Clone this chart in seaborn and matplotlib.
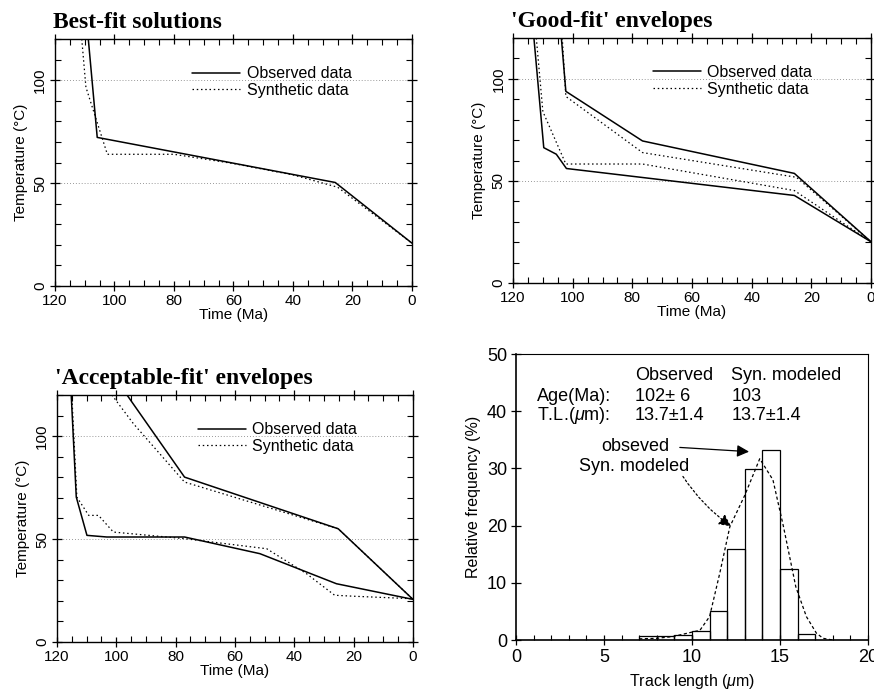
import numpy as np
import pandas as pd
import matplotlib
matplotlib.use('Agg')
import matplotlib.pyplot as plt
import seaborn as sns
from matplotlib.lines import Line2D
from matplotlib.ticker import MultipleLocator

# ---- data ----
# best-fit panel
best_obs_t = [108.8, 105.8, 25.8, 0]
best_obs_T = [120, 72.2, 50.3, 20.8]
best_syn_t = [111, 109.6, 102.4, 80, 60, 40, 25, 0]
best_syn_T = [120, 96.6, 64, 64, 59.5, 54, 48, 20.8]

# good-fit envelopes
good_obs_up_t = [103.8, 102.3, 76.6, 25.7, 0]
good_obs_up_T = [120, 93.9, 69.6, 53.7, 20.2]
good_obs_lo_t = [113, 109.7, 105.5, 102.1, 25.7, 0]
good_obs_lo_T = [120, 66.3, 63.1, 56.1, 42.9, 20.2]
good_syn_up_t = [103.5, 102.3, 76.6, 25, 0]
good_syn_up_T = [120, 91.4, 63.9, 51.8, 20.2]
good_syn_lo_t = [112.2, 110, 102.3, 76.6, 25.7, 0]
good_syn_lo_T = [120, 84, 58.3, 58.3, 45.3, 20.2]

# acceptable-fit envelopes
acc_obs_up_t = [96.4, 77, 25.2, 0]
acc_obs_up_T = [120, 80.1, 55, 20.7]
acc_obs_lo_t = [115.2, 113.5, 109.9, 103.2, 77, 51.6, 25.8, 0]
acc_obs_lo_T = [120, 70.4, 51.8, 51, 51, 42.9, 28.3, 20.7]
acc_syn_up_t = [101.5, 94.2, 77, 25.2, 0]
acc_syn_up_T = [120, 106, 77.7, 55, 20.7]
acc_syn_lo_t = [115, 113.3, 109.3, 106, 101, 77, 49.3, 35.9, 26.4, 19.6, 0]
acc_syn_lo_T = [120, 70.4, 61.5, 61.5, 53.4, 50.2, 45.3, 33.2, 22.7, 22.2, 21]

# track length histogram
bin_left = [7, 8, 9, 10, 11, 12, 13, 14, 15, 16]
rel_freq = [0.7, 0.7, 0.8, 1.5, 5.0, 16.0, 29.9, 33.3, 12.5, 1.0]
syn_len = [7.0, 8.0, 8.9, 10.45, 11.0, 11.58, 12.15, 13.0, 13.85, 14.6, 15.2, 15.9, 16.5, 17.07, 17.45, 18]
syn_freq = [0.2, 0.3, 0.6, 1.7, 4.1, 11.7, 19.8, 25.3, 31.7, 28.0, 19.8, 9.3, 4.1, 1.2, 0.3, 0.0]

sns.set_theme(style='ticks')
plt.rcParams['font.family'] = ['Liberation Sans', 'DejaVu Sans']
plt.rcParams['mathtext.fontset'] = 'custom'
plt.rcParams['mathtext.rm'] = 'Liberation Sans'
plt.rcParams['mathtext.it'] = 'Liberation Sans:italic'
for key in ('text.color', 'axes.labelcolor', 'xtick.color', 'ytick.color', 'axes.edgecolor'):
    plt.rcParams[key] = 'black'

fig = plt.figure(figsize=(8.74, 6.92), dpi=100)
ax1 = fig.add_axes([0.0629, 0.5867, 0.4085, 0.3569])
ax2 = fig.add_axes([0.587, 0.591, 0.4096, 0.354])
ax3 = fig.add_axes([0.0652, 0.0723, 0.4073, 0.3569])
ax4 = fig.add_axes([0.5904, 0.0751, 0.4027, 0.4133])

solid = dict(color='black', lw=1.1, sort=False, estimator=None)
dotted = dict(color='black', lw=0.9, sort=False, estimator=None, linestyle=(0, (1.2, 2.2)))


def temp_axes(ax, title, leg_x, leg_y):
    ax.set_xlim(120, 0)
    ax.set_ylim(0, 120)
    ax.xaxis.set_major_locator(MultipleLocator(20))
    ax.xaxis.set_minor_locator(MultipleLocator(5))
    ax.yaxis.set_major_locator(MultipleLocator(50))
    ax.yaxis.set_minor_locator(MultipleLocator(10))
    ax.tick_params(which='both', top=True, right=True, color='black')
    ax.tick_params(which='major', direction='inout', length=7, width=0.9, labelsize=11, pad=2)
    ax.tick_params(which='minor', direction='in', length=4, width=0.8)
    for lab in ax.get_yticklabels():
        lab.set_rotation(90)
        lab.set_va('center')
    for s in ax.spines.values():
        s.set_linewidth(1.0)
    for yy in (50, 100):
        ax.axhline(yy, color='#777777', lw=0.6, linestyle=(0, (1, 2.5)), zorder=0)
    ax.set_xlabel('Time (Ma)', fontsize=11, labelpad=0)
    ax.set_ylabel('Temperature (°C)', fontsize=11, labelpad=4)
    ax.text(-0.005, 1.025, title, transform=ax.transAxes, ha='left', va='bottom',
            fontsize=17, fontweight='bold', family='Liberation Serif')
    handles = [Line2D([], [], color='black', lw=1.1),
               Line2D([], [], color='black', lw=0.9, linestyle=(0, (1.2, 2.2)))]
    ax.legend(handles, ['Observed data', 'Synthetic data'], loc='upper left',
              bbox_to_anchor=(leg_x, leg_y), frameon=False, fontsize=11.5,
              handlelength=3.0, handletextpad=0.4, labelspacing=0.1, borderpad=0,
              borderaxespad=0)


sns.lineplot(x=best_obs_t, y=best_obs_T, ax=ax1, **solid)
sns.lineplot(x=best_syn_t, y=best_syn_T, ax=ax1, **dotted)
temp_axes(ax1, 'Best-fit solutions', 0.385, 0.89)

for t, T in [(good_obs_up_t, good_obs_up_T), (good_obs_lo_t, good_obs_lo_T)]:
    sns.lineplot(x=t, y=T, ax=ax2, **solid)
for t, T in [(good_syn_up_t, good_syn_up_T), (good_syn_lo_t, good_syn_lo_T)]:
    sns.lineplot(x=t, y=T, ax=ax2, **dotted)
temp_axes(ax2, "'Good-fit' envelopes", 0.39, 0.89)

for t, T in [(acc_obs_up_t, acc_obs_up_T), (acc_obs_lo_t, acc_obs_lo_T)]:
    sns.lineplot(x=t, y=T, ax=ax3, **solid)
for t, T in [(acc_syn_up_t, acc_syn_up_T), (acc_syn_lo_t, acc_syn_lo_T)]:
    sns.lineplot(x=t, y=T, ax=ax3, **dotted)
temp_axes(ax3, "'Acceptable-fit' envelopes", 0.395, 0.89)

# histogram panel
hist_df = pd.DataFrame({'length': [b + 0.5 for b in bin_left], 'freq': rel_freq})
sns.histplot(data=hist_df, x='length', weights='freq', binwidth=1, binrange=(7, 17),
             fill=False, color='black', linewidth=0.9, element='bars', ax=ax4)
sns.lineplot(x=syn_len, y=syn_freq, ax=ax4, color='black', lw=0.9,
             linestyle=(0, (2.5, 2)), sort=False, estimator=None)
ax4.set_xlim(0, 20)
ax4.set_ylim(0, 50)
ax4.xaxis.set_major_locator(MultipleLocator(5))
ax4.xaxis.set_minor_locator(MultipleLocator(1))
ax4.yaxis.set_major_locator(MultipleLocator(10))
ax4.tick_params(which='major', direction='inout', length=7, width=0.9, labelsize=13, pad=3)
ax4.tick_params(which='minor', direction='in', length=3.5, width=0.8)
for s in ax4.spines.values():
    s.set_linewidth(0.8)
ax4.spines['left'].set_linewidth(1.2)
ax4.spines['bottom'].set_linewidth(1.2)
ax4.set_xlabel('Track length ($\\mu$m)', fontsize=11.5, labelpad=4)
ax4.set_ylabel('Relative frequency (%)', fontsize=11.5, labelpad=4)

fs = 13
ax4.text(6.75, 46.3, 'Observed', fontsize=fs, va='center')
ax4.text(12.24, 46.3, 'Syn. modeled', fontsize=fs, va='center')
ax4.text(1.2, 42.6, 'Age(Ma):', fontsize=fs, va='center')
ax4.text(6.75, 42.6, '102± 6', fontsize=fs, va='center')
ax4.text(12.24, 42.6, '103', fontsize=fs, va='center')
ax4.text(1.2, 39.2, 'T.L.($\\mu$m):', fontsize=fs, va='center')
ax4.text(6.75, 39.2, '13.7±1.4', fontsize=fs, va='center')
ax4.text(12.24, 39.2, '13.7±1.4', fontsize=fs, va='center')
ax4.text(4.85, 33.8, 'obseved', fontsize=fs, va='center')
ax4.text(3.6, 30.4, 'Syn. modeled', fontsize=fs, va='center')
ax4.annotate('', xy=(13.4, 32.9), xytext=(9.15, 33.7),
             arrowprops=dict(arrowstyle='-|>', color='black', lw=0.9,
                             mutation_scale=18))
ax4.annotate('', xy=(12.35, 19.6), xytext=(9.4, 29.0),
             arrowprops=dict(arrowstyle='-|>', color='black', lw=0.9,
                             linestyle=(0, (1.5, 2)), mutation_scale=18,
                             connectionstyle='arc3,rad=0.1'))

fig.savefig('out.png', dpi=100)
